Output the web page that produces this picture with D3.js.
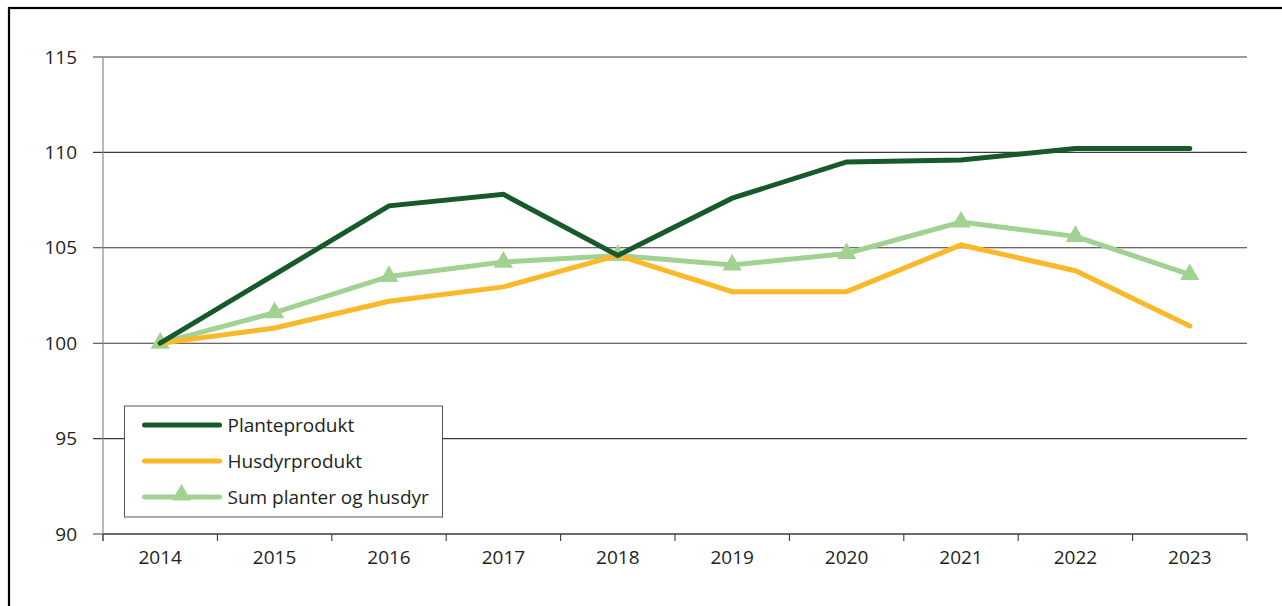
<!DOCTYPE html>
<html>
<head>
<meta charset="utf-8">
<script src="https://cdn.jsdelivr.net/npm/d3@7"></script>
<style>
  body { margin: 0; background: #fff; }
  svg text { font-family: "Open Sans", sans-serif; fill: #231f20; }
</style>
</head>
<body>
<div id="chart"></div>
<script>
// data (index, 2014 = 100)
const years = ["2014", "2015", "2016", "2017", "2018", "2019", "2020", "2021", "2022", "2023"];
const plante = [100, 103.6, 107.2, 107.8, 104.6, 107.6, 109.5, 109.6, 110.2, 110.2];
const husdyr = [100, 100.8, 102.2, 102.95, 104.6, 102.7, 102.7, 105.15, 103.8, 100.9];
const sum = [100, 101.6, 103.5, 104.25, 104.6, 104.1, 104.7, 106.35, 105.6, 103.6];
const yTicks = [90, 95, 100, 105, 110, 115];

const series = [
    { name: "Planteprodukt", values: plante, color: "#16592b", marker: false },
    { name: "Husdyrprodukt", values: husdyr, color: "#fbb829", marker: false },
    { name: "Sum planter og husdyr", values: sum, color: "#a2d292", marker: true }
];

const svgWidth = 1282;
const svgHeight = 606;
const margin = { top: 57, right: 35, bottom: 72, left: 103 };
const width = svgWidth - margin.left - margin.right;
const height = svgHeight - margin.top - margin.bottom;
const fontSize = 19;

const svg = d3.select("#chart").append("svg")
    .attr("width", svgWidth)
    .attr("height", svgHeight);

// outer frame
svg.append("rect")
    .attr("x", 9)
    .attr("y", 8)
    .attr("width", svgWidth)
    .attr("height", svgHeight)
    .attr("fill", "none")
    .attr("stroke", "#000")
    .attr("stroke-width", 2.2);

const g = svg.append("g")
    .attr("transform", "translate(" + margin.left + "," + margin.top + ")");

const x = d3.scaleBand().domain(years).range([0, width]).padding(0);
const y = d3.scaleLinear().domain([90, 115]).range([height, 0]);

// gridlines
g.selectAll(".grid")
    .data(yTicks)
    .enter().append("line")
    .attr("x1", -10)
    .attr("x2", width)
    .attr("y1", d => y(d))
    .attr("y2", d => y(d))
    .attr("stroke", "#3a3a3a")
    .attr("stroke-width", 1.1);

// y axis
const yAxis = g.append("g")
    .call(d3.axisLeft(y).tickValues(yTicks).tickSize(0).tickPadding(26))
    .attr("font-size", fontSize)
    .attr("font-family", "Open Sans, sans-serif");
yAxis.select(".domain").remove();

g.append("line")
    .attr("x1", 0).attr("x2", 0)
    .attr("y1", 0).attr("y2", height + 7)
    .attr("stroke", "#8a8a8a")
    .attr("stroke-width", 1.2);

// x axis
const xAxis = g.append("g")
    .attr("transform", "translate(0," + height + ")")
    .call(d3.axisBottom(x).tickSize(0).tickPadding(17))
    .attr("font-size", fontSize)
    .attr("font-family", "Open Sans, sans-serif");
xAxis.select(".domain").remove();

g.append("line")
    .attr("x1", 0).attr("x2", width)
    .attr("y1", height).attr("y2", height)
    .attr("stroke", "#3a3a3a")
    .attr("stroke-width", 1.1);

const edges = years.map(d => x(d)).concat([x(years[years.length - 1]) + x.bandwidth()]);
g.selectAll(".xtick")
    .data(edges)
    .enter().append("line")
    .attr("x1", d => d).attr("x2", d => d)
    .attr("y1", height).attr("y2", height + 7)
    .attr("stroke", "#3a3a3a")
    .attr("stroke-width", 1.1);

// lines
const line = d3.line()
    .x((d, i) => x(years[i]) + x.bandwidth() / 2)
    .y(d => y(d));

const tri = d3.symbol().type(d3.symbolTriangle).size(160);

// draw order: sum first, then husdyr, then plante on top
[series[2], series[1], series[0]].forEach(s => {
    g.append("path")
        .datum(s.values)
        .attr("d", line)
        .attr("fill", "none")
        .attr("stroke", s.color)
        .attr("stroke-width", 5)
        .attr("stroke-linejoin", "miter")
        .attr("stroke-linecap", "round");
    if (s.marker) {
        g.selectAll(".marker")
            .data(s.values)
            .enter().append("path")
            .attr("d", tri)
            .attr("transform", (d, i) => "translate(" + (x(years[i]) + x.bandwidth() / 2) + "," + y(d) + ")")
            .attr("fill", s.color);
    }
});

// legend
const legend = svg.append("g").attr("transform", "translate(124.5,406)");
legend.append("rect")
    .attr("width", 318)
    .attr("height", 111)
    .attr("fill", "#fff")
    .attr("stroke", "#555")
    .attr("stroke-width", 1);

series.forEach((s, i) => {
    const ly = 19 + i * 36;
    legend.append("line")
        .attr("x1", 20).attr("x2", 95)
        .attr("y1", ly).attr("y2", ly)
        .attr("stroke", s.color)
        .attr("stroke-width", 5)
        .attr("stroke-linecap", "round");
    if (s.marker) {
        legend.append("path")
            .attr("d", tri)
            .attr("transform", "translate(57," + (ly - 2) + ")")
            .attr("fill", s.color);
    }
    legend.append("text")
        .attr("x", 103)
        .attr("y", ly)
        .attr("dy", "0.35em")
        .attr("font-size", fontSize)
        .text(s.name);
});
</script>
</body>
</html>
